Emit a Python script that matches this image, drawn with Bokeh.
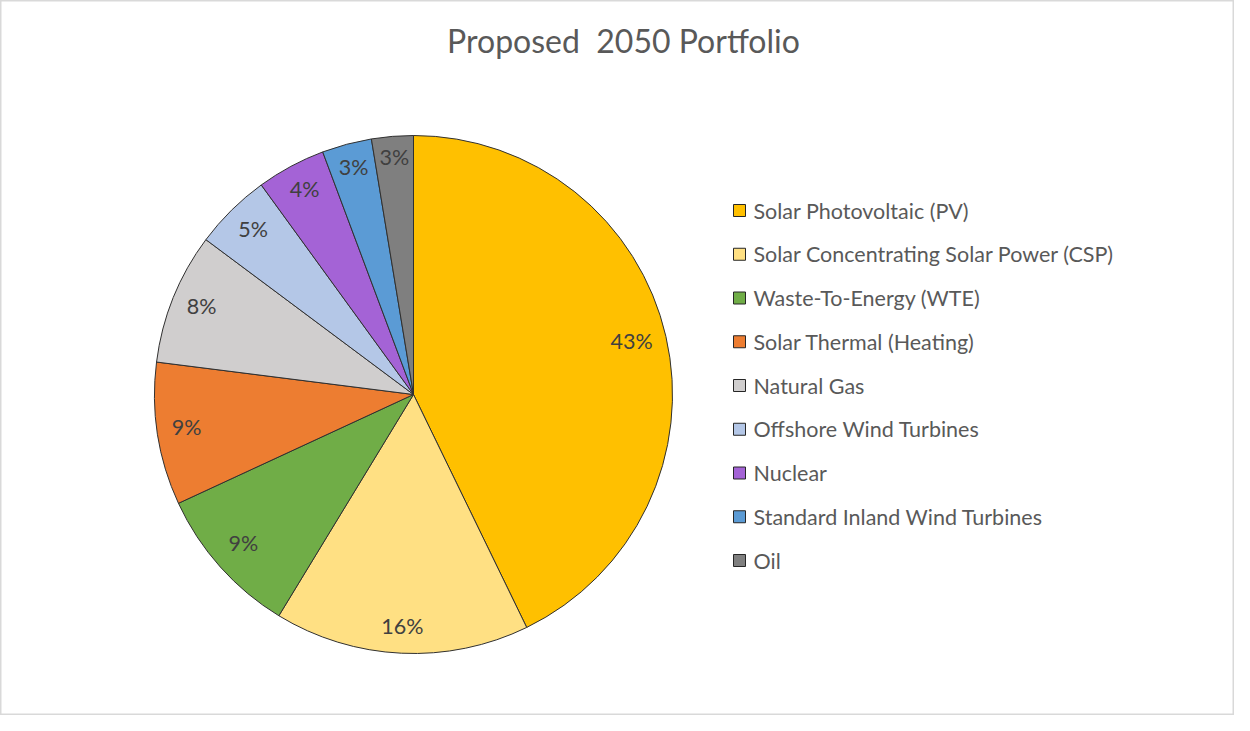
import math
from bokeh.plotting import figure
from bokeh.models import Range1d, Label, ColumnDataSource
from bokeh.core.properties import value
from bokeh.embed import file_html
from bokeh.resources import INLINE

# ---- data ----
categories = [
    "Solar Photovoltaic (PV)",
    "Solar Concentrating Solar Power (CSP)",
    "Waste-To-Energy (WTE)",
    "Solar Thermal (Heating)",
    "Natural Gas",
    "Offshore Wind Turbines",
    "Nuclear",
    "Standard Inland Wind Turbines",
    "Oil",
]
shares = [42.8, 15.9, 9.4, 8.9, 8.2, 4.8, 4.3, 3.1, 2.6]
colors = ["#FFC000", "#FFE083", "#70AD47", "#ED7D31", "#D0CECE",
          "#B4C7E7", "#A463D6", "#5B9BD5", "#7F7F7F"]
title_text = "Proposed\u00a0 2050 Portfolio"

# ---- layout ----
W, H = 1234, 715
FONT = "Lato"
FS = 21.5
cx, cy, R = 413, 321, 259
r_in = 246

total = sum(shares)
starts, ends, lx, ly, labels = [], [], [], [], []
cum = 0.0
for s in shares:
    f0 = cum / total
    f1 = (cum + s) / total
    starts.append(math.pi / 2 - 2 * math.pi * f0)
    ends.append(math.pi / 2 - 2 * math.pi * f1)
    mid = 2 * math.pi * (f0 + f1) / 2
    lab = f"{round(s / total * 100)}%"
    half_w = ((len(lab) - 1) * 0.51 * FS + 0.88 * FS) / 2
    half_h = 10
    d = r_in - (abs(math.sin(mid)) * half_w + abs(math.cos(mid)) * half_h)
    lx.append(cx + d * math.sin(mid))
    ly.append(cy + d * math.cos(mid) + 3)
    labels.append(lab)
    cum += s

src = ColumnDataSource(dict(cat=categories, start=starts, end=ends,
                            color=colors, lx=lx, ly=ly, lab=labels))

p = figure(width=W, height=H, x_range=Range1d(0, W), y_range=Range1d(0, H),
           output_backend="svg", toolbar_location=None,
           x_axis_type=None, y_axis_type=None, min_border=0)
p.grid.visible = False
p.outline_line_color = "#D9D9D9"
p.outline_line_width = 2
p.background_fill_color = "white"
p.border_fill_color = "white"

p.wedge(x=cx, y=cy, radius=R, start_angle="start", end_angle="end",
        direction="clock", fill_color="color", line_color="#303030",
        line_width=1, source=src)

p.text(x="lx", y="ly", text="lab", source=src, text_align="center",
       text_baseline="middle", text_color="#404040",
       text_font=value(FONT), text_font_size=f"{FS}px")

# title
p.add_layout(Label(x=623, y=675, text=title_text, text_align="center",
                   text_baseline="middle", text_color="#595959",
                   text_font=FONT, text_font_size="32px"))

# legend (manual)
leg_y = [723 - (218 + i * 43.75) for i in range(len(categories))]
leg_src = ColumnDataSource(dict(cat=categories, color=colors,
                                x=[739] * len(categories), tx=[753] * len(categories),
                                y=leg_y))
p.scatter(x="x", y="y", marker="square", size=12, fill_color="color",
          line_color="#262626", line_width=1, source=leg_src)
p.text(x="tx", y="y", text="cat", source=leg_src, text_align="left",
       text_baseline="middle", text_color="#595959",
       text_font=value(FONT), text_font_size=f"{FS}px")

open("out.html", "w").write(file_html(p, INLINE))
